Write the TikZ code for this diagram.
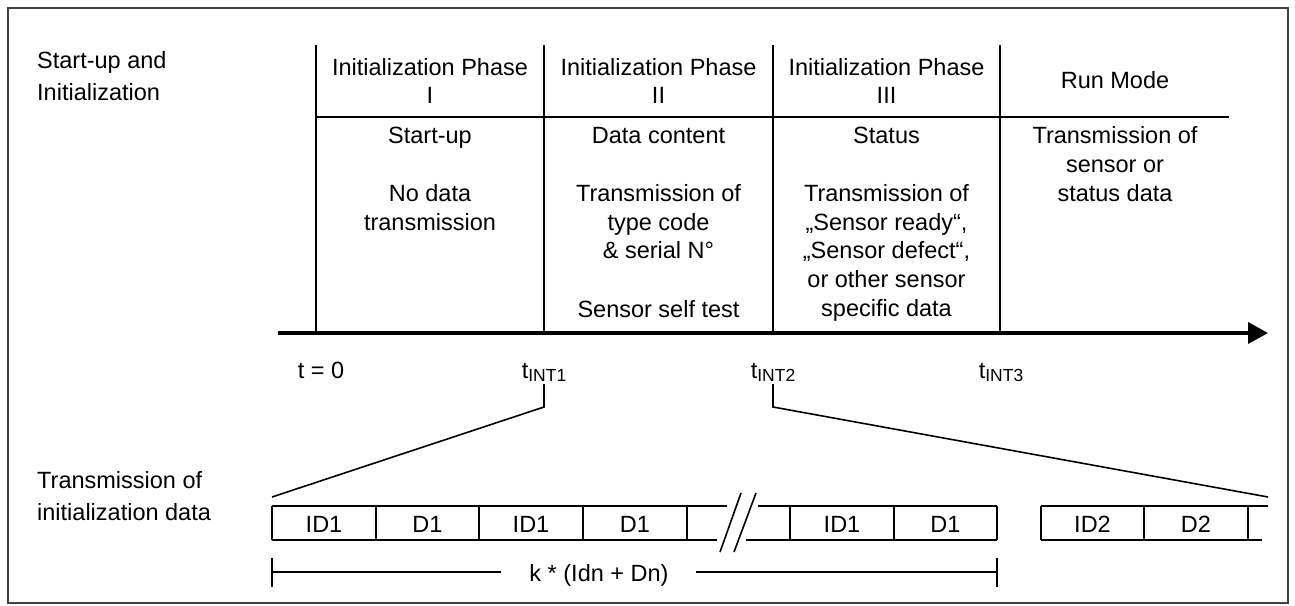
\documentclass[tikz,border=0pt]{standalone}
\usepackage{fontspec}
\setmainfont{Liberation Sans}
\usetikzlibrary{arrows.meta}
\newcommand\fsz{\fontsize{23.5}{28.7}\selectfont}
\newcommand\fsub{\fontsize{17.5}{20}\selectfont}
\tikzset{
  txt/.style={font=\fsz, inner sep=0pt, anchor=base},
  ltxt/.style={font=\fsz, inner sep=0pt, anchor=base west},
  frame/.style={draw=black!75, line width=1.6pt},
  thin/.style={line width=1.6pt, line cap=butt},
  axis/.style={line width=3.6pt, -{Triangle[length=20pt,width=21pt]}},
}
\begin{document}
\begin{tikzpicture}[x=1pt,y=-1pt]
\useasboundingbox (0,0) rectangle (1295,605);
\draw[frame] (8,8) rectangle (1288,603);

% left labels
\node[ltxt] (l1a) at (37,68) {Start-up and};
\node[ltxt] (l1b) at (37,100) {Initialization};
\node[ltxt] (l2a) at (37,488) {Transmission of};
\node[ltxt] (l2b) at (37,520) {initialization data};

% column dividers and header line
\foreach \x/\n in {316/d0,544/d1,773/d2,1000/d3}{
  \coordinate (\n t) at (\x,45);
  \coordinate (\n b) at (\x,333);
  \draw[thin] (\n t) -- (\n b);
}
\coordinate (hl) at (316,117);
\coordinate (hr) at (1229,117);
\draw[thin] (hl) -- (hr);

% time axis
\coordinate (ax0) at (278,333);
\coordinate (ax1) at (1268,333);
\draw[axis] (ax0) -- (ax1);

% headers
\node[txt] (h1a) at (430,75) {Initialization Phase};
\node[txt] (h1b) at (430,103) {I};
\node[txt] (h2a) at (658.5,75) {Initialization Phase};
\node[txt] (h2b) at (658.5,103) {II};
\node[txt] (h3a) at (886.5,75) {Initialization Phase};
\node[txt] (h3b) at (886.5,103) {III};
\node[txt] (h4) at (1115,88) {Run Mode};

% column 1
\node[txt] (c1a) at (430,143) {Start-up};
\node[txt] (c1b) at (430,201) {No data};
\node[txt] (c1c) at (430,230) {transmission};
% column 2
\node[txt] (c2a) at (658.5,143) {Data content};
\node[txt] (c2b) at (658.5,201) {Transmission of};
\node[txt] (c2c) at (658.5,230) {type code};
\node[txt] (c2d) at (658.5,258) {\& serial N°};
\node[txt] (c2e) at (658.5,317) {Sensor self test};
% column 3
\node[txt] (c3a) at (886.5,143) {Status};
\node[txt] (c3b) at (886.5,201) {Transmission of};
\node[txt] (c3c) at (886.5,230) {„Sensor ready“,};
\node[txt] (c3d) at (886.5,258) {„Sensor defect“,};
\node[txt] (c3e) at (886.5,287) {or other sensor};
\node[txt] (c3f) at (886.5,316) {specific data};
% column 4
\node[txt] (c4a) at (1115,143) {Transmission of};
\node[txt] (c4b) at (1115,172) {sensor or};
\node[txt] (c4c) at (1115,201) {status data};

% time labels
\node[txt] (t0) at (321,378) {t = 0};
\node[txt] (t1) at (544,378) {t\raisebox{-3pt}{\fsub INT1}};
\node[txt] (t2) at (773,378) {t\raisebox{-3pt}{\fsub INT2}};
\node[txt] (t3) at (1001,378) {t\raisebox{-3pt}{\fsub INT3}};

% zoom lines
\coordinate (z1a) at (544,384);
\coordinate (z1b) at (544,407);
\coordinate (z1c) at (272,497);
\coordinate (z2a) at (773,384);
\coordinate (z2b) at (773,407);
\coordinate (z2c) at (1268,497);
\draw[thin, line join=miter] (z1a) -- (z1b) -- (z1c);
\draw[thin, line join=miter] (z2a) -- (z2b) -- (z2c);

% data cells, first group
\foreach \x in {272,376,479,583,687,790,894,997}{
  \draw[thin] (\x,506) -- (\x,540);
}
\coordinate (ta) at (272,506);
\coordinate (tb) at (727,506);
\coordinate (tc) at (758,506);
\coordinate (td) at (997,506);
\coordinate (ba) at (272,540);
\coordinate (bb) at (717,540);
\coordinate (bc) at (746,540);
\coordinate (bd) at (997,540);
\draw[thin] (ta) -- (tb);
\draw[thin] (tc) -- (td);
\draw[thin] (ba) -- (bb);
\draw[thin] (bc) -- (bd);
\coordinate (s1a) at (741,493);
\coordinate (s1b) at (720,552);
\coordinate (s2a) at (756,493);
\coordinate (s2b) at (734,552);
\draw[thin] (s1a) -- (s1b);
\draw[thin] (s2a) -- (s2b);

% data cells, second group
\foreach \x in {1041,1144,1248}{
  \draw[thin] (\x,506) -- (\x,540);
}
\coordinate (ua) at (1041,506);
\coordinate (ub) at (1268,506);
\coordinate (va) at (1041,540);
\coordinate (vb) at (1262,540);
\draw[thin] (ua) -- (ub);
\draw[thin] (va) -- (vb);

% cell labels
\node[txt] (e1) at (324,532) {ID1};
\node[txt] (e2) at (427.5,532) {D1};
\node[txt] (e3) at (531,532) {ID1};
\node[txt] (e4) at (635,532) {D1};
\node[txt] (e5) at (842,532) {ID1};
\node[txt] (e6) at (945.5,532) {D1};
\node[txt] (e7) at (1092.5,532) {ID2};
\node[txt] (e8) at (1196,532) {D2};

% dimension
\coordinate (kl) at (272,572);
\coordinate (kr) at (997,572);
\coordinate (kl1) at (272,558);
\coordinate (kl2) at (272,587);
\coordinate (kr1) at (997,558);
\coordinate (kr2) at (997,587);
\node[txt] (k) at (599,581) {k * (Idn + Dn)};
\coordinate (kw) at (501,572);
\coordinate (ke) at (696,572);
\draw[thin] (kl1) -- (kl2);
\draw[thin] (kr1) -- (kr2);
\draw[thin] (kl) -- (kw);
\draw[thin] (ke) -- (kr);
\end{tikzpicture}
\end{document}
